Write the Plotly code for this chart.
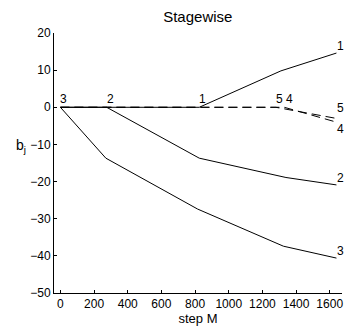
import plotly.graph_objects as go

# Coefficient paths (step M vs b_j)
x1 = [0, 825, 1310, 1640]
y1 = [0, 0, 9.8, 14.6]
x2 = [0, 275, 825, 1340, 1640]
y2 = [0, 0, -13.7, -18.9, -20.9]
x3 = [0, 270, 815, 1325, 1640]
y3 = [0, -13.7, -27.4, -37.4, -40.6]
x4 = [0, 1330, 1640]
y4 = [0, 0, -4.0]
x5 = [0, 1280, 1640]
y5 = [0, 0, -3.0]

# Labels: where each coefficient enters and at its end
enter_labels = ["3", "2", "1", "5", "4"]
enter_x = [0, 275, 825, 1280, 1340]
end_labels = ["1", "2", "3", "5", "4"]
end_y = [14.6, -20.9, -40.6, -3.0, -4.0]
end_shift = [7, 7, 7, 10, -7]

xticks = [0, 200, 400, 600, 800, 1000, 1200, 1400, 1600]
yticks = [-50, -40, -30, -20, -10, 0, 10, 20]

FONT = "Liberation Sans, Arial, Helvetica, sans-serif"

fig = go.Figure()
solid = dict(color="black", width=1)
dashed = dict(color="black", width=1, dash="9px,5px")
for xs, ys, ln in [(x1, y1, solid), (x2, y2, solid), (x3, y3, solid),
                   (x4, y4, dashed), (x5, y5, dashed)]:
    fig.add_trace(go.Scatter(x=xs, y=ys, mode="lines", line=ln,
                             showlegend=False, hoverinfo="skip"))

ann = []
for t, xv in zip(enter_labels, enter_x):
    ann.append(dict(x=xv, y=0, text=t, showarrow=False, xanchor="left",
                    yanchor="middle", yshift=8, xshift=-2,
                    font=dict(size=12, color="black", family=FONT)))
for t, yv, s in zip(end_labels, end_y, end_shift):
    ann.append(dict(x=1640, y=yv, text=t, showarrow=False, xanchor="left",
                    yanchor="middle", yshift=s, xshift=-1,
                    font=dict(size=12, color="black", family=FONT)))
ann.append(dict(xref="paper", yref="paper", x=-0.09, y=0.565,
                text="b<sub>j</sub>", showarrow=False, xanchor="right",
                yanchor="middle",
                font=dict(size=14, color="black", family=FONT)))

fig.update_layout(
    width=344, height=335,
    margin=dict(l=54, r=2, t=33, b=42, pad=0),
    paper_bgcolor="white", plot_bgcolor="white",
    font=dict(family=FONT, color="black", size=12),
    title=dict(text="Stagewise", x=0.575, xanchor="center", y=0.95,
               yanchor="middle", font=dict(size=15, color="black", family=FONT)),
    annotations=ann,
    xaxis=dict(range=[-38, 1673], tickvals=xticks, ticks="inside", ticklen=3,
               tickcolor="black", showline=True, linecolor="black", linewidth=1,
               showgrid=False, zeroline=False, tickfont=dict(size=12),
               title=dict(text="step M", standoff=2, font=dict(size=13))),
    yaxis=dict(range=[-50, 20], tickvals=yticks, ticks="inside", ticklen=3,
               tickcolor="black", showline=True, linecolor="black", linewidth=1,
               showgrid=False, zeroline=False, tickfont=dict(size=12)),
)

fig.write_html("out.html")
